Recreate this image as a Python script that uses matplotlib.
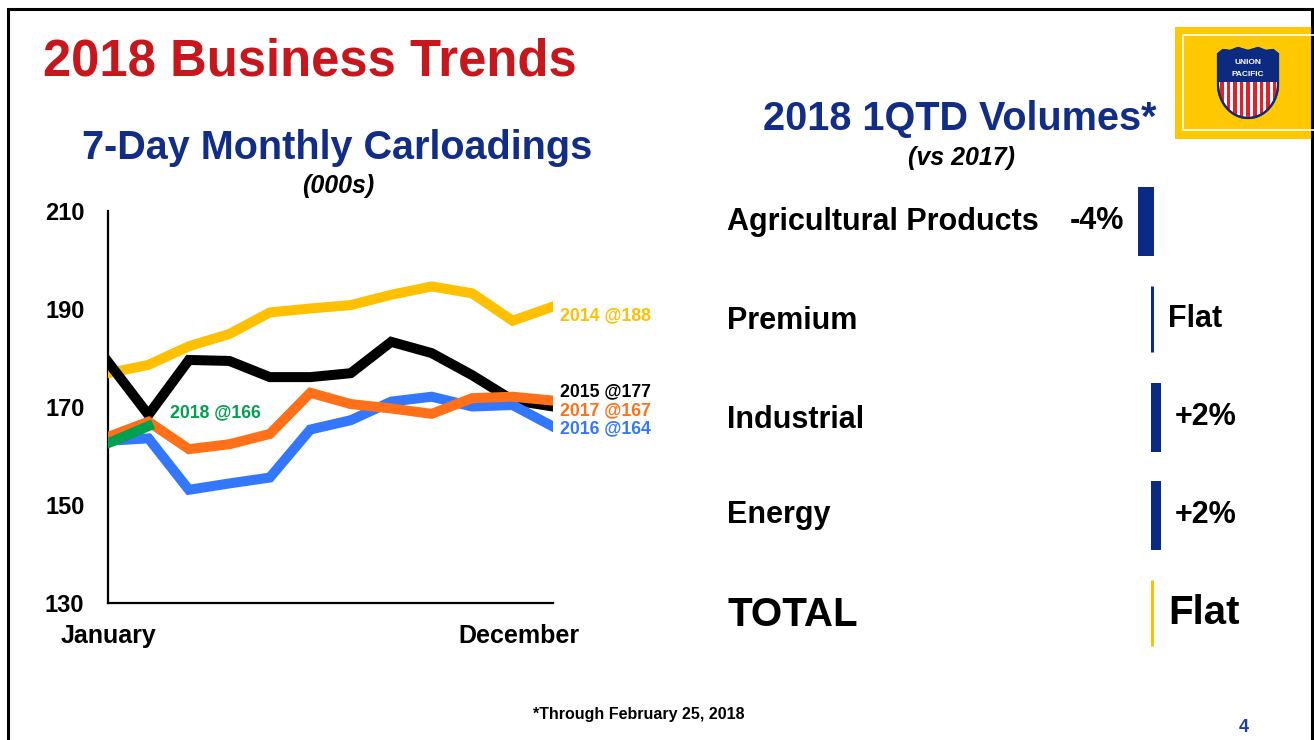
import matplotlib
matplotlib.use("Agg")
import matplotlib.pyplot as plt
import numpy as np
from matplotlib.patches import Rectangle, Polygon

plt.rcParams['font.family'] = ['Liberation Sans', 'DejaVu Sans']
plt.rcParams['font.weight'] = 'bold'

# ---------------- data ----------------
months = ['Jan', 'Feb', 'Mar', 'Apr', 'May', 'Jun', 'Jul', 'Aug', 'Sep', 'Oct', 'Nov', 'Dec']
v2014 = [176.9, 178.6, 182.4, 184.9, 189.3, 190.1, 190.8, 192.9, 194.6, 193.2, 187.6, 190.5]
v2015 = [179.2, 168.4, 179.6, 179.4, 176.1, 176.1, 176.9, 183.3, 181.0, 176.5, 171.4, 170.1]
v2016 = [163.1, 163.6, 153.1, 154.4, 155.6, 165.4, 167.3, 171.1, 172.1, 170.1, 170.4, 166.0]
v2017 = [163.9, 167.0, 161.4, 162.4, 164.5, 172.9, 170.6, 169.7, 168.6, 171.8, 172.1, 171.3]
v2018 = [162.6, 166.1]
series_labels = ['2014 @188', '2015 @177', '2016 @164', '2017 @167', '2018 @166']
label_y = [188.6, 173.1, 165.6, 169.2, 168.8]
y_ticks = [130, 150, 170, 190, 210]
x_tick_labels = ['January', 'December']

categories = ['Agricultural Products', 'Premium', 'Industrial', 'Energy', 'TOTAL']
changes = [-4, 0, 2, 2, 0]
change_labels = ['-4%', 'Flat', '+2%', '+2%', 'Flat']

# ---------------- figure ----------------
W, H = 1314, 740
fig = plt.figure(figsize=(W / 100, H / 100), dpi=100)
fig.patch.set_facecolor('white')

def ax_rect(x0, y0, x1, y1):
    return [x0 / W, 1 - y1 / H, (x1 - x0) / W, (y1 - y0) / H]

def ftext(x, y, s, **kw):
    fig.text(x / W, 1 - y / H, s, **kw)

RED = '#C8161D'
NAVY = '#112D87'
BAR = '#0A2A84'
YEL = '#FFC000'
ORA = '#FF7018'
BLU = '#3377FF'
GRN = '#00A04E'

# decorations layer (slide border + logo)
deco = fig.add_axes([0, 0, 1, 1])
deco.set_xlim(0, W)
deco.set_ylim(H, 0)
deco.axis('off')
deco.patch.set_alpha(0)
deco.plot([8, 8, 1312, 1312], [H + 5, 9, 9, H + 5], color='black', lw=2.2, solid_joinstyle='miter')

# logo
deco.add_patch(Rectangle((1175, 27), 139, 112, facecolor='#FFC800', edgecolor='none'))
deco.plot([1320, 1183, 1183, 1320], [35, 35, 130, 130], color='white', lw=1.2)
t = np.linspace(0, 1, 30)
cx = 1248
curve_r = [(1278 - (1278 - cx) * (1 - np.cos(tt * np.pi / 2)), 84 + 34 * np.sin(tt * np.pi / 2)) for tt in t]
curve_l = [(2 * cx - xx, yy) for (xx, yy) in curve_r[::-1]]
top = [(1218, 54), (1223, 50), (1230, 51), (1238, 48), (1248, 51), (1258, 48), (1266, 51), (1273, 50), (1278, 54)]
shield_pts = top + [(1278, 84)] + curve_r[1:] + curve_l[1:] + [(1218, 84)]
shield = Polygon(shield_pts, closed=True, facecolor='white', edgecolor='#0B2A80', lw=1.5, zorder=3)
deco.add_patch(shield)
for i in range(9):
    sx = 1220 + i * 6.6
    r = Rectangle((sx, 82), 3.6, 40, facecolor='#E0202A', edgecolor='none', zorder=4)
    deco.add_patch(r)
    r.set_clip_path(shield)
band = Rectangle((1215, 45), 66, 37, facecolor='#0B2A80', edgecolor='none', zorder=4)
deco.add_patch(band)
band.set_clip_path(shield)
outline = Polygon(shield_pts, closed=True, facecolor='none', edgecolor='#0B2A80', lw=1.6, zorder=5)
deco.add_patch(outline)
deco.text(cx, 63, 'UNION', color='white', fontsize=6, ha='center', va='center', zorder=6)
deco.text(cx, 74, 'PACIFIC', color='white', fontsize=6, ha='center', va='center', zorder=6)

# titles
ftext(43, 76, '2018 Business Trends', color=RED, fontsize=36.5, ha='left', va='baseline')
ftext(337, 159, '7-Day Monthly Carloadings', color=NAVY, fontsize=28.5, ha='center', va='baseline')
ftext(338, 193, '(000s)', color='black', fontsize=18, style='italic', ha='center', va='baseline')
ftext(960, 130, '2018 1QTD Volumes*', color=NAVY, fontsize=28.5, ha='center', va='baseline')
ftext(961, 165, '(vs 2017)', color='black', fontsize=18, style='italic', ha='center', va='baseline')

# ---------------- line chart ----------------
ax = fig.add_axes(ax_rect(108, 211, 553, 603))
x = np.arange(len(months))
ax.plot(x, v2014, color=YEL, lw=7.2, solid_joinstyle='miter', zorder=2)
ax.plot(x, v2015, color='black', lw=7.2, solid_joinstyle='miter', zorder=3)
ax.plot(x, v2016, color=BLU, lw=7.2, solid_joinstyle='miter', zorder=4)
ax.plot(x, v2017, color=ORA, lw=7.2, solid_joinstyle='miter', zorder=5)
ax.plot(x[:len(v2018)], v2018, color=GRN, lw=7.2, solid_joinstyle='miter', zorder=6)
ax.set_xlim(0, 11)
ax.set_ylim(130, 210)
ax.set_yticks(y_ticks)
ax.set_yticklabels([str(v) for v in y_ticks], fontsize=17, fontweight='bold')
ax.tick_params(axis='y', length=0, pad=17)
ax.set_xticks([])
for s in ['top', 'right']:
    ax.spines[s].set_visible(False)
for s in ['left', 'bottom']:
    ax.spines[s].set_linewidth(1.6)
    ax.spines[s].set_zorder(1)

label_colors = [YEL, 'black', BLU, ORA, GRN]
label_x = [11.18, 11.18, 11.18, 11.18, 1.53]
for lab, lx, ly, c in zip(series_labels, label_x, label_y, label_colors):
    ax.text(lx, ly, lab, color=c, fontsize=12.7, ha='left', va='center', clip_on=False, zorder=7)

ftext(108, 636, x_tick_labels[0], fontsize=18, ha='center', va='center')
ftext(519, 636, x_tick_labels[1], fontsize=18, ha='center', va='center')

# ---------------- volume bars ----------------
# baseline at x=1152 px, 3.3 px per percent
px_per = 3.3
bx0, bx1 = 1100, 1310
bax = fig.add_axes(ax_rect(bx0, 172, bx1, 662))
bax.set_xlim(-(1152 - bx0) / px_per, (bx1 - 1152) / px_per)
bax.set_ylim(len(categories) - 0.5, -0.5)
bax.axis('off')
bar_colors = [BAR, BAR, BAR, BAR, YEL]
rows = np.arange(len(categories))
bax.barh(rows, changes, height=0.67, color=bar_colors, edgecolor=bar_colors, linewidth=2.16)
row_base = [230, 329, 428, 523, 626]
for i, (cat, val, lab) in enumerate(zip(categories, changes, change_labels)):
    big = cat == 'TOTAL'
    fs = 29 if big else 22
    ftext(727, row_base[i], cat, fontsize=fs, ha='left', va='baseline')
    if val < 0:
        bax.text(val - 15 / px_per, i, lab, fontsize=fs, ha='right', va='center')
    else:
        bax.text(val + 16 / px_per, i, lab, fontsize=fs, ha='left', va='center')

# footer
ftext(639, 715, '*Through February 25, 2018', fontsize=11.5, ha='center', va='center')
ftext(1244, 732, '4', color='#1B3FA0', fontsize=13, ha='center', va='baseline')

fig.savefig('out.png', dpi=100)
